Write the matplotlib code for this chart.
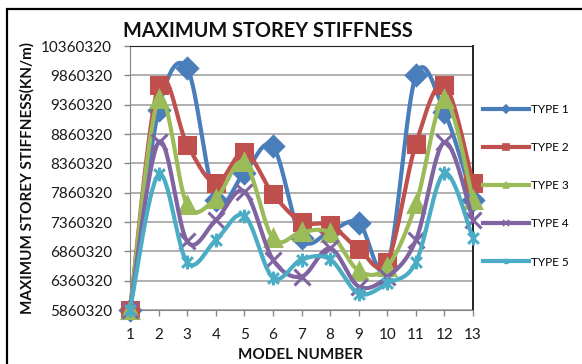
import matplotlib

matplotlib.use("Agg")
import matplotlib.pyplot as plt
import numpy as np
from matplotlib.lines import Line2D
from matplotlib.patches import Rectangle
from matplotlib.path import Path

models = list(range(1, 14))
type_1 = [5860320, 9270000, 9980000, 7740000, 8200000, 8650000, 7080000,
          7200000, 7350000, 6600000, 9860000, 9240000, 7740000]
type_2 = [5860320, 9700000, 8680000, 8020000, 8550000, 7840000, 7360000,
          7310000, 6900000, 6680000, 8690000, 9700000, 8030000]
type_3 = [5860320, 9450000, 7650000, 7760000, 8380000, 7080000, 7190000,
          7170000, 6530000, 6600000, 7660000, 9450000, 7740000]
type_4 = [5860320, 8720000, 7030000, 7390000, 7880000, 6720000, 6430000,
          6910000, 6260000, 6420000, 7050000, 8720000, 7400000]
type_5 = [5860320, 8170000, 6670000, 7050000, 7470000, 6410000, 6720000,
          6725000, 6140000, 6315000, 6670000, 8190000, 7080000]
series_names = ["TYPE 1", "TYPE 2", "TYPE 3", "TYPE 4", "TYPE 5"]
y_ticks = list(range(5860320, 10360321, 500000))

colors = ["#4A7EBB", "#C0504D", "#9BBB59", "#8064A2", "#4BACC6"]

# asterisk marker: an X crossed by a vertical bar
star = Path([(-1, -1), (1, 1), (-1, 1), (1, -1), (0, -1.3), (0, 1.3)],
            [Path.MOVETO, Path.LINETO, Path.MOVETO, Path.LINETO, Path.MOVETO, Path.LINETO])
markers = ["D", "s", "^", "x", star]
marker_sizes = [10, 11, 11, 11, 10]


def smooth(xs, ys, steps=30):
    """Cardinal (Catmull-Rom) bezier curve through the points."""
    x = np.asarray(xs, float)
    y = np.asarray(ys, float)
    px = np.concatenate([[x[0]], x, [x[-1]]])
    py = np.concatenate([[y[0]], y, [y[-1]]])
    t = np.linspace(0, 1, steps + 1)[1:]
    out_x, out_y = [x[0]], [y[0]]
    for i in range(len(x) - 1):
        p0x, p1x, p2x, p3x = px[i:i + 4]
        p0y, p1y, p2y, p3y = py[i:i + 4]
        c1x, c1y = p1x + (p2x - p0x) / 6, p1y + (p2y - p0y) / 6
        c2x, c2y = p2x - (p3x - p1x) / 6, p2y - (p3y - p1y) / 6
        a, b, c, d = (1 - t) ** 3, 3 * t * (1 - t) ** 2, 3 * t ** 2 * (1 - t), t ** 3
        out_x.extend(a * p1x + b * c1x + c * c2x + d * p2x)
        out_y.extend(a * p1y + b * c1y + c * c2y + d * p2y)
    return np.array(out_x), np.array(out_y)


plt.rcParams["font.family"] = ["Lato", "DejaVu Sans"]

fig = plt.figure(figsize=(5.82, 3.64), dpi=100)
ax = fig.add_axes([130 / 582, 54 / 364, 343 / 582, 264 / 364])

all_series = [type_1, type_2, type_3, type_4, type_5]
for values, color, marker, ms in zip(all_series, colors, markers, marker_sizes):
    sx, sy = smooth(models, values)
    ax.plot(sx, sy, color=color, linewidth=3, clip_on=False, zorder=3)
    ax.plot(models, values, linestyle="none", marker=marker, markersize=ms,
            color=color, markeredgecolor=color, markeredgewidth=2.2,
            clip_on=False, zorder=3)

ax.set_xlim(1, 13)
ax.set_ylim(y_ticks[0], y_ticks[-1])
ax.set_xticks(models)
ax.set_yticks(y_ticks)
ax.set_yticklabels([str(v) for v in y_ticks])
ax.tick_params(axis="both", direction="out", length=4, width=1, color="#868686",
               labelsize=11, labelcolor="#1a1a1a")
ax.tick_params(axis="y", pad=9)
ax.tick_params(axis="x", pad=9)
ax.grid(axis="y", color="#9a9a9a", linewidth=1.1)
ax.set_axisbelow(True)
for side in ["left", "bottom"]:
    ax.spines[side].set_color("#868686")
for side in ["top", "right"]:
    ax.spines[side].set_color("#222222")
ax.spines["right"].set_linewidth(1.4)

fig.text(268 / 582, 1 - 31 / 364, "MAXIMUM STOREY STIFFNESS", ha="center", va="center",
         fontsize=14.3, fontweight="bold", color="#111111")
fig.text(27 / 582, 1 - 178 / 364, "MAXIMUM STOREY STIFFNESS(KN/m)", ha="center", va="center",
         rotation=90, fontsize=11, fontweight="bold", color="#111111")
fig.text(300 / 582, 1 - 355 / 364, "MODEL NUMBER", ha="center", va="center",
         fontsize=11, fontweight="bold", color="#111111")

handles = [Line2D([], [], color=c, linewidth=3, marker=m, markersize=4,
                  markeredgewidth=1.2, markeredgecolor=c)
           for c, m in zip(colors, markers)]
fig.legend(handles, series_names, loc="upper left", bbox_to_anchor=(483 / 582, 1 - 104 / 364),
           frameon=False, fontsize=8.5, handlelength=3.9, handletextpad=0.2,
           labelspacing=2.3, borderaxespad=0, borderpad=0)

# outer chart frame
fig.add_artist(Rectangle((7 / 582, -0.2), 1.2, 1.2 - 9 / 364, transform=fig.transFigure,
                         fill=False, edgecolor="black", linewidth=1.6))

fig.savefig("out.png", dpi=100)
